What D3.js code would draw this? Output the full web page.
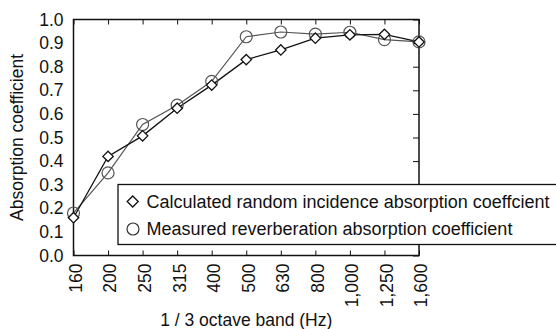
<!DOCTYPE html>
<html><head><meta charset="utf-8">
<script src="https://cdn.jsdelivr.net/npm/d3@7"></script>
<style>body{margin:0;background:#fff}svg{display:block}text{font-family:"Liberation Sans",Arial,sans-serif;fill:#111}</style>
</head><body>
<svg id="c" width="556" height="329"></svg>
<script>
const categories = ["160","200","250","315","400","500","630","800","1,000","1,250","1,600"];
const calculated = [0.16,0.42,0.507,0.624,0.722,0.83,0.871,0.921,0.935,0.937,0.905];
const measured = [0.18,0.35,0.555,0.637,0.738,0.927,0.947,0.938,0.946,0.915,0.905];
const yTicks = [0,0.1,0.2,0.3,0.4,0.5,0.6,0.7,0.8,0.9,1.0];
const legendLabels = ["Calculated random incidence absorption coeffcient","Measured reverberation absorption coefficient"];
const xTitle = "1 / 3 octave band  (Hz)";
const yTitle = "Absorption coefficient";

const FS = 17.5;
const svg = d3.select("#c");
const L=73.5, R=419, T=19.5, B=255.5;
const x = d3.scalePoint().domain(categories).range([L,R]);
const y = d3.scaleLinear().domain([0,1]).range([B,T]);

const g = svg.append("g");
g.append("g").attr("transform",`translate(0,${T})`).call(d3.axisTop(x).tickSize(-5).tickFormat(""))
  .call(a=>{a.select(".domain").remove();a.selectAll("line").attr("stroke","#111");});
g.append("g").attr("transform",`translate(0,${B})`).call(d3.axisBottom(x).tickSize(-5).tickFormat(""))
  .call(a=>{a.select(".domain").remove();a.selectAll("line").attr("stroke","#111");});
g.append("g").attr("transform",`translate(${R},0)`).call(d3.axisRight(y).tickValues(yTicks).tickSize(-6).tickFormat(""))
  .call(a=>{a.select(".domain").remove();a.selectAll("line").attr("stroke","#111");});
g.append("g").attr("transform",`translate(${L},0)`).call(d3.axisLeft(y).tickValues(yTicks).tickSize(0).tickPadding(10).tickFormat(d3.format(".1f")))
  .call(a=>{a.select(".domain").remove();a.selectAll("text").attr("font-size",FS).style("font-family","Liberation Sans").attr("fill","#111");});
g.append("g").attr("transform",`translate(0,${B})`).call(d3.axisBottom(x).tickSize(0).tickPadding(0))
  .call(a=>{a.select(".domain").remove();a.selectAll("text").attr("font-size",FS).style("font-family","Liberation Sans")
    .attr("text-anchor","end").attr("transform","rotate(-90)").attr("x",-8).attr("y",0).attr("dy","0.45em").attr("fill","#111");});
g.append("rect").attr("x",L).attr("y",T).attr("width",R-L).attr("height",B-T).attr("fill","none").attr("stroke","#111").attr("stroke-width",1.5);

const line = d3.line().x((d,i)=>x(categories[i])).y(d=>y(d));
g.append("path").datum(measured).attr("d",line).attr("fill","none").attr("stroke","#555").attr("stroke-width",1.2);
g.append("path").datum(calculated).attr("d",line).attr("fill","none").attr("stroke","#111").attr("stroke-width",1.3);
g.selectAll(".circ").data(measured).enter().append("circle").attr("cx",(d,i)=>x(categories[i])).attr("cy",d=>y(d)).attr("r",6)
  .attr("fill","none").attr("stroke","#555").attr("stroke-width",1.2);
const diamond = (cx,cy,s)=>`M${cx},${cy-s}L${cx+s},${cy}L${cx},${cy+s}L${cx-s},${cy}Z`;
g.selectAll(".dia").data(calculated).enter().append("path").attr("d",(d,i)=>diamond(x(categories[i]),y(d),5.2))
  .attr("fill","white").attr("stroke","#111").attr("stroke-width",1.3);

const lg = svg.append("g");
lg.append("rect").attr("x",118).attr("y",184.5).attr("width",450).attr("height",60).attr("fill","white").attr("stroke","#111").attr("stroke-width",1.3);
lg.append("path").attr("d",diamond(132.7,201.5,5.5)).attr("fill","white").attr("stroke","#111").attr("stroke-width",1.3);
lg.append("circle").attr("cx",133).attr("cy",229).attr("r",6).attr("fill","none").attr("stroke","#333").attr("stroke-width",1.2);
lg.selectAll(".lt").data(legendLabels).enter().append("text").attr("x",146.5).attr("y",(d,i)=>201.5+i*27.5).attr("dy","0.35em")
  .attr("font-size",18).text(d=>d);

svg.append("text").attr("x",(L+R)/2).attr("y",320).attr("dy","0.35em").attr("text-anchor","middle").attr("font-size",FS).text(xTitle);
svg.append("text").attr("transform",`translate(17,${(T+B)/2}) rotate(-90)`).attr("dy","0.35em").attr("text-anchor","middle").attr("font-size",FS).text(yTitle);
</script>
</body></html>
